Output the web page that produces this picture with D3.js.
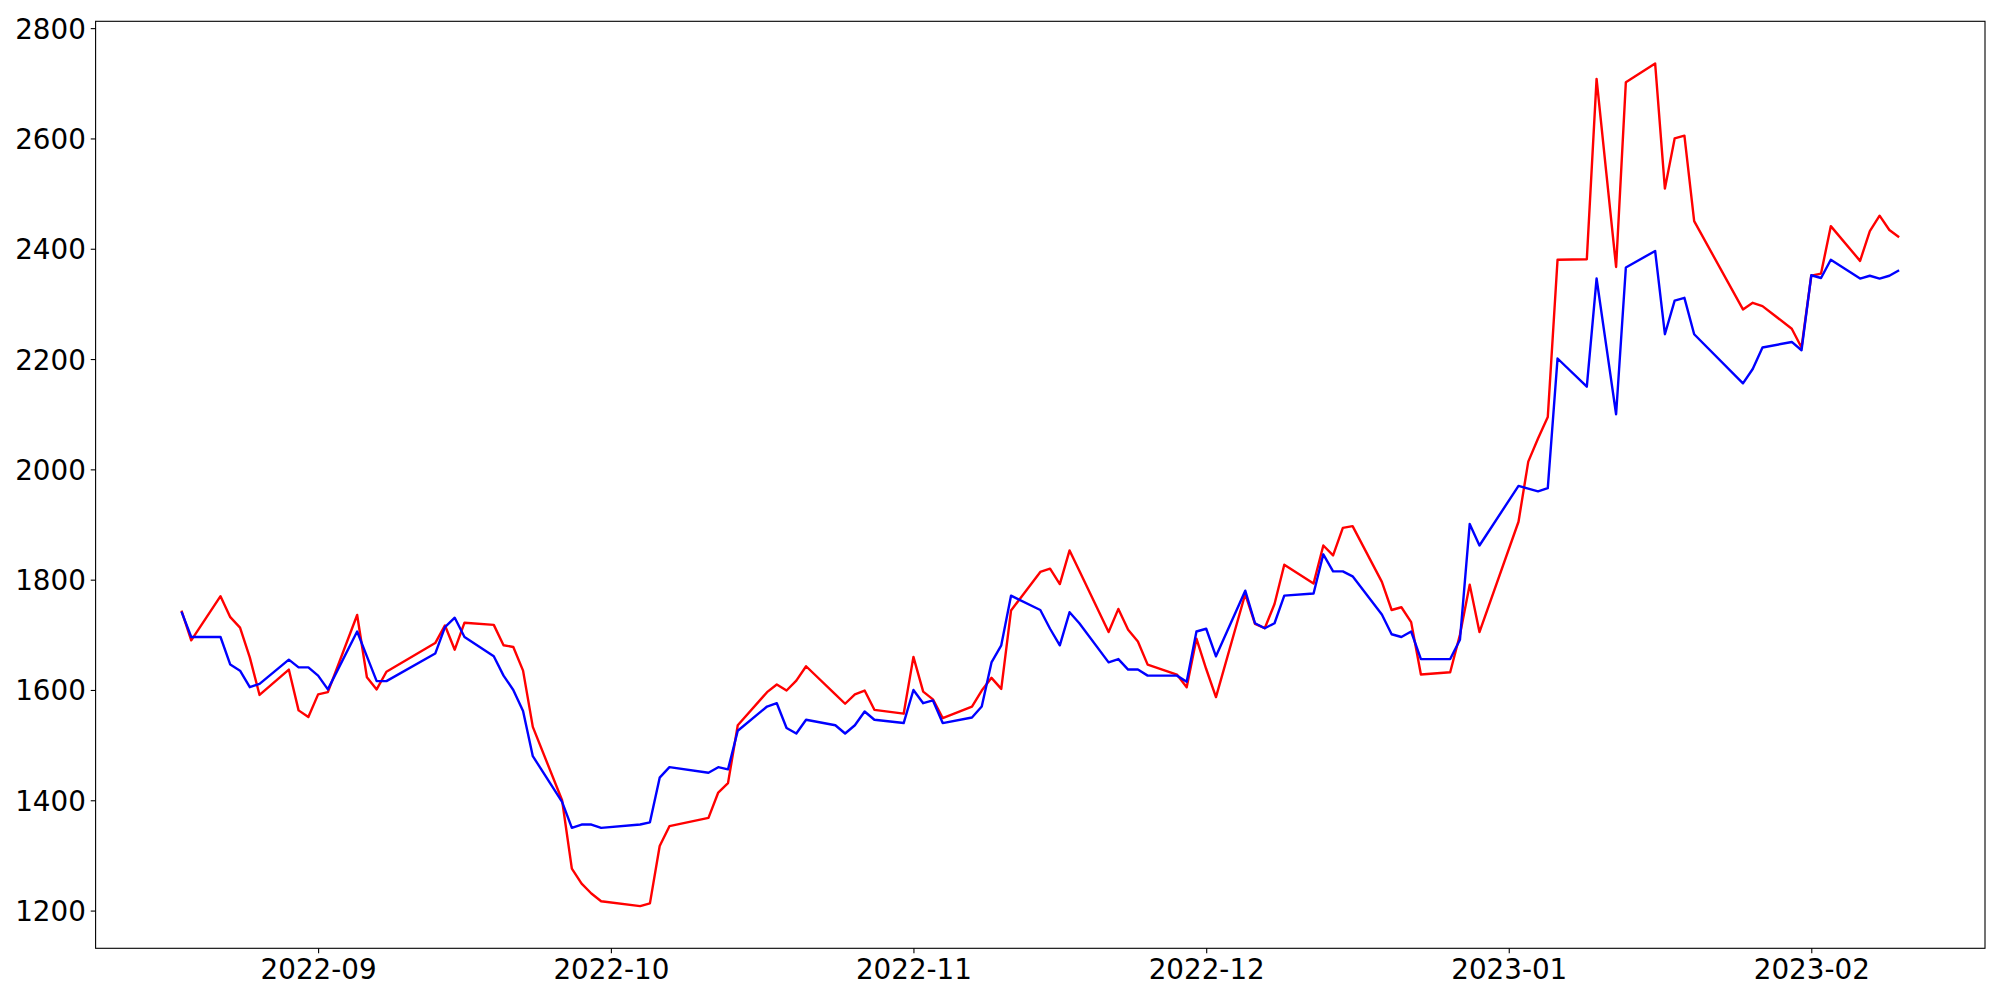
<!DOCTYPE html>
<html lang="en">
<head>
  <meta charset="UTF-8">
  <script src="https://d3js.org/d3.v7.min.js"></script>
  <style>
    body { margin: 0; background: #fff; }
    .tick text { font-family: "DejaVu Sans", sans-serif; font-size: 27.78px; fill: #000; }
  </style>
</head>
<body>

<script>
// trading days (Aug 2022 - Feb 2023)
var dates = [
  "2022-08-18","2022-08-19","2022-08-22","2022-08-23","2022-08-24","2022-08-25","2022-08-26",
  "2022-08-29","2022-08-30","2022-08-31","2022-09-01","2022-09-02","2022-09-05","2022-09-06",
  "2022-09-07","2022-09-08","2022-09-13","2022-09-14","2022-09-15","2022-09-16","2022-09-19",
  "2022-09-20","2022-09-21","2022-09-22","2022-09-23","2022-09-26","2022-09-27","2022-09-28",
  "2022-09-29","2022-09-30","2022-10-04","2022-10-05","2022-10-06","2022-10-07","2022-10-11",
  "2022-10-12","2022-10-13","2022-10-14","2022-10-17","2022-10-18","2022-10-19","2022-10-20",
  "2022-10-21","2022-10-24","2022-10-25","2022-10-26","2022-10-27","2022-10-28","2022-10-31",
  "2022-11-01","2022-11-02","2022-11-03","2022-11-04","2022-11-07","2022-11-08","2022-11-09",
  "2022-11-10","2022-11-11","2022-11-14","2022-11-15","2022-11-16","2022-11-17","2022-11-18",
  "2022-11-21","2022-11-22","2022-11-23","2022-11-24","2022-11-25","2022-11-28","2022-11-29",
  "2022-11-30","2022-12-01","2022-12-02","2022-12-05","2022-12-06","2022-12-07","2022-12-08",
  "2022-12-09","2022-12-12","2022-12-13","2022-12-14","2022-12-15","2022-12-16","2022-12-19",
  "2022-12-20","2022-12-21","2022-12-22","2022-12-23","2022-12-26","2022-12-27","2022-12-28",
  "2022-12-29","2023-01-02","2023-01-03","2023-01-04","2023-01-05","2023-01-06","2023-01-09",
  "2023-01-10","2023-01-11","2023-01-12","2023-01-13","2023-01-16","2023-01-17","2023-01-18",
  "2023-01-19","2023-01-20","2023-01-25","2023-01-26","2023-01-27","2023-01-30","2023-01-31",
  "2023-02-01","2023-02-02","2023-02-03","2023-02-06","2023-02-07","2023-02-08","2023-02-09",
  "2023-02-10"
];

var redValues = [
  1744, 1690, 1770, 1732, 1713, 1659, 1591,
  1637, 1563, 1551, 1592, 1596, 1736, 1623,
  1601, 1633, 1685, 1717, 1673, 1722, 1718,
  1681, 1678, 1635, 1533, 1400, 1276, 1249,
  1231, 1217, 1208, 1213, 1317, 1353, 1368,
  1414, 1431, 1536, 1596, 1610, 1599, 1617,
  1643, 1592, 1575, 1592, 1599, 1564, 1557,
  1660, 1597, 1583, 1549, 1570, 1599, 1622,
  1602, 1744, 1814, 1820, 1792, 1853, 1816,
  1705, 1747, 1709, 1688, 1646, 1628, 1605,
  1693, 1638, 1587, 1774, 1720, 1712, 1756,
  1827, 1793, 1862, 1844, 1894, 1897, 1796,
  1745, 1750, 1723, 1628, 1632, 1700, 1791,
  1705, 1905, 2014, 2056, 2095, 2380, 2381,
  2708, 2537, 2367, 2702, 2736, 2509, 2600,
  2605, 2450, 2290, 2302, 2296, 2255, 2221,
  2351, 2355, 2441, 2378, 2432, 2460, 2434,
  2421
];

var blueValues = [
  1742, 1696, 1696, 1646, 1635, 1605, 1611,
  1655, 1641, 1641, 1626, 1601, 1706, 1661,
  1616, 1616, 1666, 1714, 1731, 1696, 1661,
  1626, 1600, 1562, 1480, 1397, 1350, 1356,
  1356, 1350, 1356, 1360, 1441, 1460, 1450,
  1460, 1456, 1526, 1570, 1576, 1531, 1521,
  1546, 1536, 1521, 1536, 1561, 1546, 1540,
  1600, 1576, 1581, 1540, 1550, 1570, 1650,
  1681, 1771, 1745, 1711, 1681, 1741, 1721,
  1650, 1656, 1637, 1637, 1626, 1626, 1615,
  1706, 1711, 1661, 1780, 1721, 1712, 1721,
  1771, 1775, 1846, 1815, 1815, 1806, 1737,
  1701, 1696, 1706, 1656, 1656, 1691, 1901,
  1862, 1970, 1965, 1960, 1966, 2201, 2150,
  2346, 2223, 2100, 2366, 2396, 2245, 2306,
  2311, 2245, 2156, 2182, 2221, 2231, 2216,
  2352, 2347, 2380, 2346, 2351, 2346, 2351,
  2361
];

var yTicks = [1200, 1400, 1600, 1800, 2000, 2200, 2400, 2600, 2800];
var xTicks = ["2022-09-01", "2022-10-01", "2022-11-01", "2022-12-01", "2023-01-01", "2023-02-01"];

var marginLeft = 95.6;
var marginRight = 15;
var marginTop = 21.3;
var marginBottom = 51.7;
var width = 2000 - marginLeft - marginRight;
var height = 1000 - marginTop - marginBottom;
var tickLen = 4.86;

var parse = d3.utcParse("%Y-%m-%d");
var t = dates.map(parse);

var svg = d3.select("body")
  .append("svg")
  .attr("width", 2000)
  .attr("height", 1000)
  .append("g")
  .attr("transform", "translate(" + marginLeft + "," + marginTop + ")");

// matplotlib style 5% margins
var tExt = d3.extent(t);
var tPad = (tExt[1] - tExt[0]) * 0.05;
var x = d3.scaleUtc()
  .domain([new Date(+tExt[0] - tPad), new Date(+tExt[1] + tPad)])
  .range([0, width]);

var vMin = d3.min(redValues.concat(blueValues));
var vMax = d3.max(redValues.concat(blueValues));
var vPad = (vMax - vMin) * 0.05;
var y = d3.scaleLinear()
  .domain([vMin - vPad, vMax + vPad])
  .range([height, 0]);

var xAxis = svg.append("g")
  .attr("transform", "translate(0," + height + ")")
  .call(d3.axisBottom(x)
    .tickValues(xTicks.map(parse))
    .tickFormat(d3.utcFormat("%Y-%m"))
    .tickSize(tickLen)
    .tickPadding(tickLen)
    .tickSizeOuter(0));
xAxis.select(".domain").remove();
xAxis.selectAll(".tick line").attr("stroke-width", 1.1);
xAxis.selectAll(".tick text").attr("dy", "0.77em");

var yAxis = svg.append("g")
  .call(d3.axisLeft(y)
    .tickValues(yTicks)
    .tickFormat(d3.format("d"))
    .tickSize(tickLen)
    .tickPadding(tickLen)
    .tickSizeOuter(0));
yAxis.select(".domain").remove();
yAxis.selectAll(".tick line").attr("stroke-width", 1.1);
yAxis.selectAll(".tick text").attr("dy", "0.36em");

var line = d3.line()
  .x(function(d, i) { return x(t[i]); })
  .y(function(d) { return y(d); });

svg.append("path")
  .datum(redValues)
  .attr("fill", "none")
  .attr("stroke", "#ff0000")
  .attr("stroke-width", 2.4)
  .attr("stroke-linejoin", "round")
  .attr("d", line);

svg.append("path")
  .datum(blueValues)
  .attr("fill", "none")
  .attr("stroke", "#0000ff")
  .attr("stroke-width", 2.4)
  .attr("stroke-linejoin", "round")
  .attr("d", line);

// axes frame
svg.append("rect")
  .attr("width", width)
  .attr("height", height)
  .attr("fill", "none")
  .attr("stroke", "#000")
  .attr("stroke-width", 1.1);
</script>
</body>
</html>
